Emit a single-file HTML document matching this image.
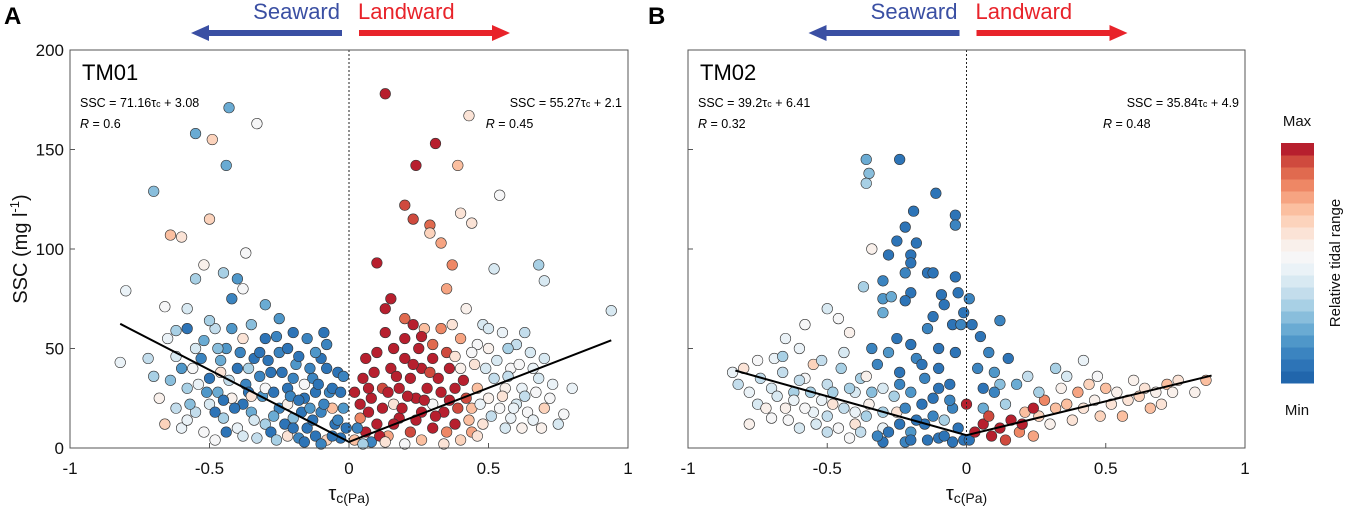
<!DOCTYPE html>
<html><head><meta charset="utf-8"><style>
body{margin:0;background:#fff;}
svg text{font-family:"Liberation Sans",Arial,sans-serif;}
</style></head><body>
<svg id="chart" width="1349" height="506" viewBox="0 0 1349 506" xmlns="http://www.w3.org/2000/svg">
</svg>
<script>
const xTicks=[-1,-0.5,0,0.5,1];
const xTickLabels=["-1","-0.5","0","0.5","1"];
const yTicks=[0,50,100,150,200];
const yTickLabels=["0","50","100","150","200"];
// [tau, SSC, relative tidal range 0..1]
const pointsA=[
[-0.43,171,.2],[-0.55,158,.2],[-0.49,155,.65],[-0.33,163,.5],[-0.44,142,.2],[-0.7,129,.25],[-0.5,115,.65],[-0.64,107,.7],[-0.6,106,.6],[-0.52,92,.55],[-0.37,98,.5],[-0.8,79,.45],[-0.66,71,.5],[-0.45,88,.3],[-0.4,85,.15],[-0.55,85,.3],[-0.82,43,.45],[-0.72,45,.35],[-0.7,36,.3],[-0.62,59,.3],[-0.58,70,.4],[-0.42,75,.1],[-0.38,80,.5],[-0.3,72,.2],[-0.25,65,.15],[-0.2,58,.05],[-0.15,55,.1],[-0.08,52,.1],[-0.35,62,.25],[-0.48,60,.35],[-0.55,50,.4],[-0.65,55,.45],[-0.6,40,.15],[-0.68,25,.55],[-0.66,12,.65],[-0.62,20,.35],[-0.58,30,.3],[-0.53,45,.1],[-0.5,35,.05],[-0.47,28,.2],[-0.44,50,.15],[-0.4,40,.05],[-0.37,32,.1],[-0.34,45,.05],[-0.31,26,.15],[-0.28,38,.05],[-0.25,48,.1],[-0.22,30,.05],[-0.19,42,.15],[-0.16,25,.05],[-0.13,35,.1],[-0.1,45,.05],[-0.07,28,.1],[-0.04,38,.05],[-0.02,20,.15],[-0.05,12,.05],[-0.1,18,.1],[-0.15,10,.05],[-0.2,15,.25],[-0.25,20,.1],[-0.3,12,.3],[-0.35,18,.2],[-0.4,10,.45],[-0.45,15,.3],[-0.5,22,.4],[-0.55,18,.35],[-0.6,10,.45],[-0.52,8,.5],[-0.42,25,.55],[-0.33,5,.35],[-0.28,8,.05],[-0.18,5,.1],[-0.12,6,.05],[-0.08,4,.65],[-0.03,5,.05],[-0.22,22,.55],[-0.3,30,.5],[-0.38,22,.05],[-0.46,38,.6],[-0.16,32,.5],[-0.06,20,.7],[-0.12,28,.05],[-0.27,28,.05],[-0.44,8,.05],[-0.36,40,.3],[-0.2,35,.1],[-0.58,60,.05],[-0.5,64,.3],[-0.3,55,.05],
[-0.57,22,.25],[-0.54,32,.45],[-0.51,28,.15],[-0.48,18,.05],[-0.46,44,.2],[-0.43,34,.35],[-0.41,20,.05],[-0.39,48,.1],[-0.36,28,.05],[-0.34,14,.4],[-0.32,36,.1],[-0.29,44,.05],[-0.27,16,.2],[-0.24,38,.05],[-0.23,12,.05],[-0.21,26,.1],[-0.18,46,.05],[-0.17,18,.05],[-0.14,40,.1],[-0.13,14,.05],[-0.11,32,.05],[-0.09,22,.1],[-0.08,40,.05],[-0.06,30,.05],[-0.04,14,.1],[-0.03,28,.05],[-0.01,10,.05],[-0.02,36,.1],[-0.26,4,.3],[-0.22,6,.6],[-0.16,3,.05],[-0.1,2,.1],[-0.06,6,.05],[-0.2,10,.05],[-0.14,20,.15],[-0.47,50,.25],[-0.62,46,.4],[-0.64,34,.25],[-0.56,40,.5],[-0.52,54,.2],[-0.42,60,.15],[-0.38,55,.6],[-0.32,48,.05],[-0.26,56,.1],[-0.22,50,.05],[-0.12,48,.15],[-0.09,58,.05],[-0.45,24,.05],[-0.35,26,.6],[-0.18,24,.05],[-0.58,14,.45],[-0.48,4,.5],[-0.38,6,.4],
[0.13,178,1],[0.31,153,1],[0.24,142,1],[0.39,142,.7],[0.43,167,.6],[0.54,127,.5],[0.2,122,.9],[0.23,115,.9],[0.29,112,.85],[0.4,118,.6],[0.44,113,.6],[0.29,108,.65],[0.33,103,.75],[0.1,93,1],[0.37,92,.8],[0.52,90,.4],[0.68,92,.3],[0.7,84,.4],[0.94,69,.4],[0.8,30,.45],[0.77,17,.5],[0.7,20,.65],[0.15,75,1],[0.13,70,1],[0.2,65,.85],[0.27,60,.7],[0.35,80,.75],[0.42,70,.55],[0.48,62,.4],[0.55,58,.45],[0.6,52,.35],[0.65,48,.4],[0.58,40,.5],[0.62,30,.45],[0.68,35,.4],[0.72,25,.5],[0.5,50,.55],[0.45,42,.6],[0.4,55,.75],[0.35,48,.9],[0.3,45,1],[0.25,50,.95],[0.2,45,1],[0.15,40,1],[0.1,48,.95],[0.05,35,1],[0.02,28,.95],[0.08,25,1],[0.12,30,.9],[0.18,30,1],[0.22,35,.95],[0.28,30,1],[0.32,35,1],[0.38,30,.95],[0.42,25,.9],[0.46,30,.7],[0.5,25,.55],[0.54,20,.5],[0.58,15,.45],[0.62,10,.55],[0.48,12,.6],[0.44,8,.75],[0.38,12,1],[0.34,18,.95],[0.3,10,1],[0.26,18,1],[0.22,8,.9],[0.18,15,1],[0.14,6,.75],[0.1,12,1],[0.06,8,.95],[0.04,15,.8],[0.02,4,.7],[0.08,3,.1],[0.16,22,.6],[0.24,25,1],[0.3,22,.5],[0.36,40,1],[0.4,40,.55],[0.52,35,.35],[0.56,30,.55],[0.6,22,.4],[0.44,20,.7],[0.26,40,.95],[0.12,20,.95],[0.2,55,1],[0.06,45,1],[0.33,60,.8],[0.46,52,.5],[0.64,18,.5],[0.7,45,.4],
[0.04,22,1],[0.07,18,1],[0.09,38,1],[0.11,6,.95],[0.14,28,1],[0.16,12,1],[0.17,36,.95],[0.19,20,1],[0.21,26,1],[0.23,42,1],[0.24,14,.95],[0.27,24,1],[0.29,38,.9],[0.31,16,1],[0.33,28,.95],[0.35,8,.8],[0.36,24,1],[0.39,20,.9],[0.41,34,.95],[0.43,14,.7],[0.47,22,.45],[0.49,40,.4],[0.51,16,.35],[0.53,44,.4],[0.55,26,.6],[0.57,36,.35],[0.59,20,.45],[0.61,42,.5],[0.63,26,.35],[0.66,14,.45],[0.67,28,.5],[0.69,10,.55],[0.73,32,.45],[0.75,12,.4],[0.66,40,.45],[0.56,10,.4],[0.46,6,.6],[0.4,4,.65],[0.34,2,.6],[0.26,4,.7],[0.2,2,.5],[0.13,3,.6],[0.05,2,.3],[0.03,10,.1],[0.07,30,.95],[0.16,50,1],[0.26,56,.95],[0.3,52,.85],[0.38,46,.6],[0.44,48,.5],[0.23,62,.95],[0.13,58,1],[0.37,62,.6],[0.5,60,.4],[0.57,50,.3],[0.63,58,.35]
];
const pointsB=[
[-0.36,145,.2],[-0.24,145,.05],[-0.35,138,.25],[-0.36,133,.3],[-0.11,128,.05],[-0.19,119,.05],[-0.04,117,.05],[-0.04,112,.1],[-0.22,111,.05],[-0.25,104,.05],[-0.18,103,.05],[-0.2,97,.05],[-0.28,97,.05],[-0.34,100,.55],[-0.2,93,.05],[-0.22,88,.1],[-0.14,88,.05],[-0.12,88,.05],[-0.04,86,.05],[-0.3,84,.1],[-0.2,78,.05],[-0.22,74,.05],[-0.37,81,.3],[-0.3,75,.15],[-0.27,76,.2],[-0.09,77,.05],[-0.03,78,.05],[0.01,75,.1],[-0.08,72,.05],[-0.01,68,.05],[-0.3,68,.2],[-0.12,66,.05],[-0.05,62,.05],[-0.14,60,.1],[-0.02,62,.1],[0.02,62,.05],[0.12,64,.1],[0.05,56,.05],[-0.25,55,.05],[-0.2,52,.05],[-0.18,45,.1],[-0.28,48,.15],[-0.1,50,.05],[-0.04,48,.05],[0.08,48,.1],[0.15,45,.05],[-0.32,42,.1],[-0.24,38,.05],[-0.15,35,.1],[-0.06,32,.05],[0.04,40,.1],[0.1,38,.15],[-0.12,25,.05],[-0.05,20,.1],[0.0,22,.95],[0.06,30,.05],[0.12,32,.25],[-0.6,50,.45],[-0.69,45,.45],[-0.75,44,.5],[-0.8,40,.6],[-0.84,38,.45],[-0.82,32,.35],[-0.65,55,.45],[-0.58,62,.5],[-0.46,65,.5],[-0.5,70,.4],[-0.42,58,.55],[-0.55,42,.65],[-0.7,30,.4],[-0.62,28,.3],[-0.5,32,.35],[-0.45,40,.3],[-0.4,28,.4],[-0.35,22,.55],[-0.3,30,.4],[-0.55,18,.45],[-0.7,15,.5],[-0.78,12,.55],[-0.6,10,.4],[-0.5,8,.35],[-0.4,12,.6],[-0.3,10,.45],[-0.25,18,.6],[-0.2,8,.15],[-0.15,12,.05],[-0.1,5,.05],[-0.05,3,.05],[-0.3,3,.05],[-0.22,3,.1],[-0.42,5,.5],[-0.65,20,.55],[-0.48,22,.6],[-0.38,35,.3],[-0.58,35,.5],[-0.75,22,.4],[-0.2,28,.15],[-0.08,14,.3],
[-0.78,28,.45],[-0.74,35,.35],[-0.72,20,.55],[-0.68,26,.4],[-0.66,38,.35],[-0.64,14,.5],[-0.62,24,.45],[-0.6,34,.35],[-0.58,20,.5],[-0.56,28,.3],[-0.54,12,.4],[-0.52,24,.45],[-0.5,16,.35],[-0.48,28,.3],[-0.46,10,.5],[-0.44,20,.35],[-0.42,30,.3],[-0.4,18,.45],[-0.38,8,.35],[-0.36,16,.3],[-0.34,28,.25],[-0.32,6,.1],[-0.3,18,.3],[-0.28,8,.05],[-0.26,26,.3],[-0.24,12,.05],[-0.22,20,.1],[-0.2,4,.05],[-0.18,14,.05],[-0.16,22,.05],[-0.14,4,.05],[-0.12,16,.1],[-0.1,30,.05],[-0.08,6,.05],[-0.06,24,.1],[-0.03,10,.05],[-0.01,4,.05],[-0.24,32,.1],[-0.16,42,.05],[-0.1,40,.05],[-0.34,50,.1],[-0.44,48,.4],[-0.52,44,.35],[-0.66,46,.3],[-0.36,36,.55],
[0.01,4,.05],[0.03,8,1],[0.06,12,.95],[0.09,6,1],[0.12,10,1],[0.14,4,.9],[0.16,14,1],[0.19,8,.8],[0.21,18,.7],[0.24,6,.75],[0.26,16,.65],[0.28,24,.8],[0.3,12,.55],[0.32,20,.7],[0.34,30,.55],[0.36,22,.7],[0.38,14,.6],[0.4,28,.75],[0.42,20,.6],[0.44,32,.65],[0.46,24,.55],[0.48,16,.65],[0.5,30,.7],[0.52,22,.6],[0.54,28,.55],[0.56,16,.7],[0.58,24,.6],[0.6,34,.55],[0.62,26,.65],[0.64,30,.6],[0.66,20,.7],[0.68,28,.55],[0.7,22,.6],[0.72,32,.7],[0.74,28,.55],[0.76,34,.6],[0.82,28,.55],[0.86,34,.7],[0.06,20,.2],[0.1,28,.1],[0.14,22,.3],[0.18,32,.2],[0.22,36,.35],[0.26,28,.3],[0.2,12,.95],[0.08,16,.9],[0.24,20,1],[0.36,36,.4],[0.42,44,.45],[0.47,36,.5],[0.32,40,.3]
];
const lineA=[[-0.82,62.4],[0,3.08],[0.94,54.1]];
const lineB=[[-0.83,38.9],[0,6.41],[0.88,36.4]];
const colorSteps=["#2166ac","#2d74b7","#3b84c0","#4f97c9","#6aabd3","#89bedc","#a8d0e5","#c3ddec","#d8e9f2","#eaf2f7","#f6f6f7","#f9f0eb","#fbe3d6","#fcd3bc","#fbbfa0","#f6a482","#ee8765","#e06a4f","#cf4a3e","#b71f2e"];

const NS="http://www.w3.org/2000/svg";
const svg=document.getElementById('chart');
function mk(tag,attrs,parent){const e=document.createElementNS(NS,tag);for(const k in attrs)e.setAttribute(k,attrs[k]);(parent||svg).appendChild(e);return e;}
function colorFor(c){return colorSteps[Math.max(0,Math.min(19,Math.floor(c*20)))];}
const T=50,B=448;
function yScale(v){return B-(v-0)/(200-0)*(B-T);}

function panel(L,R,pts,line,name,eqL,rL,eqR,rR,letter,letterX){
  const xScale=v=>L+(v+1)/2*(R-L);
  const g=mk('g',{});
  
  
  const pg=mk('g',{},g);
  
  
  pts.forEach(p=>{
    const c=mk('circle',{cx:xScale(p[0]),cy:yScale(p[1]),r:5.3,fill:colorFor(p[2]),stroke:'#333','stroke-width':0.6},pg);
    
    
  });
  const zl=mk('line',{x1:xScale(0),x2:xScale(0),y1:T,y2:B,stroke:'#222','stroke-width':1,'stroke-dasharray':'2,2'},g);
  
  
  const fl=mk('polyline',{points:line.map(p=>xScale(p[0])+','+yScale(p[1])).join(' '),fill:'none',stroke:'#000','stroke-width':2},g);
  
  
  const box=mk('rect',{x:L,y:T,width:R-L,height:B-T,fill:'none',stroke:'#555','stroke-width':1},g);
  
  
  xTicks.forEach((v,i)=>{
    const x=xScale(v);
    const tk=mk('line',{x1:x,x2:x,y1:B,y2:B-5,stroke:'#555'},g);
    
    
    const t=mk('text',{x:x,y:B+26,'text-anchor':'middle','font-size':17,fill:'#111'},g);
    t.textContent=xTickLabels[i];
    
    
  });
  yTicks.forEach((v,i)=>{
    const y=yScale(v);
    const tk=mk('line',{x1:L,x2:L+5,y1:y,y2:y,stroke:'#555'},g);
    
    
    if(letter==='A'){
      const t=mk('text',{x:L-6,y:y+6,'text-anchor':'end','font-size':17,fill:'#111'},g);
      t.textContent=yTickLabels[i];
      
      
    }
  });
  const xt=mk('text',{x:xScale(0),y:B+52,'text-anchor':'middle','font-size':20,fill:'#111'},g);
  xt.innerHTML='τ<tspan font-size="14" dy="3">c(Pa)</tspan>';
  
  
  const nm=mk('text',{x:L+12,y:T+30,'font-size':22,fill:'#000'},g);
  nm.textContent=name;
  
  
  const e1=mk('text',{x:L+10,y:T+57,'font-size':12.5,fill:'#000'},g);
  e1.innerHTML=eqL;
  
  
  const r1=mk('text',{x:L+10,y:T+78,'font-size':12.5,fill:'#000'},g);
  r1.innerHTML='<tspan font-style="italic">R</tspan> = '+rL;
  
  
  const e2=mk('text',{x:R-6,y:T+57,'font-size':12.5,fill:'#000','text-anchor':'end'},g);
  e2.innerHTML=eqR;
  
  
  const r2=mk('text',{x:xScale(0)+(R-L)*0.245,y:T+78,'font-size':12.5,fill:'#000'},g);
  r2.innerHTML='<tspan font-style="italic">R</tspan> = '+rR;
  
  
  const lt=mk('text',{x:letterX,y:24,'font-size':24,'font-weight':'bold',fill:'#000'},g);
  lt.textContent=letter;
  
  
  const x0=xScale(0);
  const sw=mk('text',{x:x0-9,y:19,'text-anchor':'end','font-size':22,fill:'#3a4fa3'},g);
  sw.textContent='Seaward';
  
  
  const lw=mk('text',{x:x0+9,y:19,'font-size':22,fill:'#e8232a'},g);
  lw.textContent='Landward';
  
  
  const sa=mk('path',{d:`M${x0-7},30 h-133 v-5 l-18,8 l18,8 v-5 h133 z`,fill:'#3a4fa3'},g);
  
  
  const la=mk('path',{d:`M${x0+10},30 h133 v-5 l18,8 l-18,8 v-5 h-133 z`,fill:'#e8232a'},g);
  
  
}
panel(70,628,pointsA,lineA,'TM01','SSC = 71.16τ<tspan font-size="9">c</tspan> + 3.08','0.6','SSC = 55.27τ<tspan font-size="9">c</tspan> + 2.1','0.45','A',4);
panel(688,1245,pointsB,lineB,'TM02','SSC = 39.2τ<tspan font-size="9">c</tspan> + 6.41','0.32','SSC = 35.84τ<tspan font-size="9">c</tspan> + 4.9','0.48','B',648);

const yt=mk('text',{x:0,y:0,transform:'translate(27,249) rotate(-90)','text-anchor':'middle','font-size':20,fill:'#111'});
yt.innerHTML='SSC (mg l<tspan font-size="13" dy="-8">-1</tspan><tspan dy="8">)</tspan>';



const cb=mk('g',{});


const cbTop=143,cbBot=383,h=(cbBot-cbTop)/colorSteps.length;
colorSteps.forEach((col,i)=>{
  const r=mk('rect',{x:1281,y:cbBot-(i+1)*h,width:33,height:h+0.5,fill:col},cb);
  
  
});
const mx=mk('text',{x:1297,y:126,'text-anchor':'middle','font-size':15,fill:'#111'},cb);
mx.textContent='Max';


const mn=mk('text',{x:1297,y:415,'text-anchor':'middle','font-size':15,fill:'#111'},cb);
mn.textContent='Min';


const ct=mk('text',{x:0,y:0,transform:'translate(1340,263) rotate(-90)','text-anchor':'middle','font-size':15,fill:'#111'},cb);
ct.textContent='Relative tidal range';


</script>
</body></html>
